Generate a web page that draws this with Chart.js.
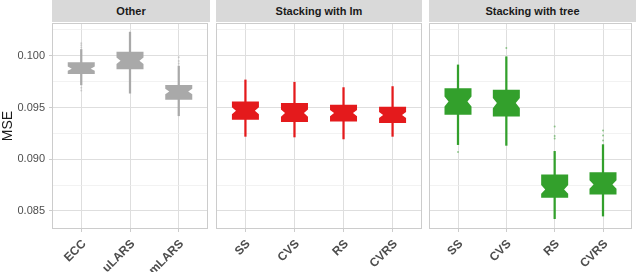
<!DOCTYPE html>
<html>
<head>
<meta charset="utf-8">
<script src="https://cdn.jsdelivr.net/npm/chart.js@4.4.1/dist/chart.umd.min.js"></script>
<style>
  body { margin: 0; background: #fff; }
  #wrap { position: relative; width: 636px; height: 272px; overflow: hidden; }
  .panel { position: absolute; top: 0; width: 212px; height: 272px; }
  .strip { position: absolute; top: 0; height: 22px; background: #d9d9d9; color: #1a1a1a;
           font: bold 11px "Liberation Sans", Arial, sans-serif; text-align: center; line-height: 22px; }
</style>
</head>
<body>
<div id="wrap">
  <div class="panel" style="left:0px"><canvas id="c1" width="212" height="272"></canvas></div>
  <div class="panel" style="left:212px"><canvas id="c2" width="212" height="272"></canvas></div>
  <div class="panel" style="left:424px"><canvas id="c3" width="212" height="272"></canvas></div>
  <div class="strip" style="left:52px;width:158px">Other</div>
  <div class="strip" style="left:216px;width:206px">Stacking with lm</div>
  <div class="strip" style="left:429px;width:207px">Stacking with tree</div>
</div>
<script>
// y axis
const yMin = 0.08326;
const yMax = 0.10316;
const yMajor = [0.085, 0.090, 0.095, 0.100];
const yMinor = [0.0875, 0.0925, 0.0975, 0.1025];

// panel "Other"
const otherLabels = ['ECC', 'uLARS', 'mLARS'];
const otherMin = [0.09718, 0.09638, 0.09420];
const otherQ1 = [0.09824, 0.09869, 0.09574];
const otherMed = [0.09875, 0.09952, 0.09654];
const otherQ3 = [0.09937, 0.10038, 0.09718];
const otherMax = [0.10060, 0.10228, 0.09900];
const otherOut = [[0.10080, 0.10100, 0.10120, 0.09690, 0.09665], [], [0.09925, 0.09950, 0.09985]];

// panel "Stacking with lm"
const lmLabels = ['SS', 'CVS', 'RS', 'CVRS'];
const lmMin = [0.09221, 0.09215, 0.09196, 0.09221];
const lmQ1 = [0.09381, 0.09359, 0.09365, 0.09350];
const lmMed = [0.09468, 0.09446, 0.09446, 0.09427];
const lmQ3 = [0.09557, 0.09542, 0.09526, 0.09507];
const lmMax = [0.09766, 0.09744, 0.09692, 0.09702];
const lmOut = [[], [], [], []];

// panel "Stacking with tree"
const treeLabels = ['SS', 'CVS', 'RS', 'CVRS'];
const treeMin = [0.09141, 0.09134, 0.08426, 0.08451];
const treeQ1 = [0.09430, 0.09413, 0.08628, 0.08660];
const treeMed = [0.09557, 0.09542, 0.08708, 0.08756];
const treeQ3 = [0.09686, 0.09670, 0.08852, 0.08874];
const treeMax = [0.09911, 0.09990, 0.09076, 0.09141];
const treeOut = [[0.09070], [0.10075], [0.09317, 0.09225, 0.09200], [0.09278, 0.09230, 0.09180]];

const nObs = 70; // runs per method, sets notch size like ggplot

Chart.defaults.font.family = '"Liberation Sans", Arial, Helvetica, sans-serif';

function isMajor(v) {
  return yMajor.some(m => Math.abs(m - v) < 1e-9);
}

// panel border + notched boxes drawn with the chart's scales
const notchPlugin = {
  id: 'notchBox',
  beforeDatasetsDraw(chart) {
    const a = chart.chartArea, ctx = chart.ctx;
    ctx.save();
    ctx.strokeStyle = '#cccccc';
    ctx.lineWidth = 1;
    ctx.strokeRect(a.left + 0.5, a.top + 0.5, a.right - a.left - 1, a.bottom - a.top - 1);
    ctx.restore();
  },
  afterDatasetsDraw(chart, args, opts) {
    const ys = chart.scales.y, ctx = chart.ctx;
    const meta = chart.getDatasetMeta(1);
    ctx.save();
    ctx.fillStyle = opts.color;
    meta.data.forEach((el, i) => {
      const w = el.width, xl = el.x - w / 2, xr = el.x + w / 2, ins = w * 0.15;
      const notch = 1.58 * (opts.q3[i] - opts.q1[i]) / Math.sqrt(nObs);
      const yq3 = ys.getPixelForValue(opts.q3[i]);
      const yq1 = ys.getPixelForValue(opts.q1[i]);
      const ym = ys.getPixelForValue(opts.med[i]);
      const yhi = ys.getPixelForValue(opts.med[i] + notch);
      const ylo = ys.getPixelForValue(opts.med[i] - notch);
      ctx.beginPath();
      ctx.moveTo(xl, yq3);
      ctx.lineTo(xr, yq3);
      ctx.lineTo(xr, yhi);
      ctx.lineTo(xr - ins, ym);
      ctx.lineTo(xr, ylo);
      ctx.lineTo(xr, yq1);
      ctx.lineTo(xl, yq1);
      ctx.lineTo(xl, ylo);
      ctx.lineTo(xl + ins, ym);
      ctx.lineTo(xl, yhi);
      ctx.closePath();
      ctx.fill();
    });
    ctx.restore();
  }
};

function makePanel(id, labels, mins, q1, med, q3, maxs, outs, color, outColor, showY, padL, padR) {
  const whisk = labels.map((_, i) => ({ x: i, y: [mins[i], maxs[i]] }));
  const boxes = labels.map((_, i) => ({ x: i, y: [q1[i], q3[i]] }));
  const points = [];
  outs.forEach((list, i) => list.forEach(v => points.push({ x: i, y: v })));

  return new Chart(document.getElementById(id), {
    type: 'bar',
    data: {
      datasets: [{
        data: whisk,
        backgroundColor: color,
        barThickness: 1.6,
        grouped: false
      }, {
        data: boxes,
        backgroundColor: 'rgba(0,0,0,0)',
        barThickness: 27,
        grouped: false
      }, {
        type: 'scatter',
        data: points,
        pointRadius: 1,
        backgroundColor: outColor,
        borderWidth: 0
      }]
    },
    options: {
      responsive: false,
      animation: false,
      layout: { padding: { left: padL, right: padR, top: 23, bottom: 0 } },
      plugins: {
        legend: { display: false },
        tooltip: { enabled: false },
        notchBox: { color: color, q1: q1, med: med, q3: q3 }
      },
      scales: {
        x: {
          type: 'linear',
          offset: false,
          min: -0.6,
          max: labels.length - 1 + 0.6,
          afterBuildTicks: s => { s.ticks = labels.map((_, i) => ({ value: i })); },
          afterFit: s => { s.height = 43; },
          ticks: {
            callback: v => labels[v],
            autoSkip: false,
            maxRotation: 45,
            minRotation: 45,
            padding: 5,
            labelOffset: 3,
            color: '#4d4d4d',
            font: { size: 12, weight: 'bold' }
          },
          grid: { offset: false, color: '#dedede', lineWidth: 1, tickLength: 3, tickColor: '#cccccc' },
          border: { display: false }
        },
        y: {
          min: yMin,
          max: yMax,
          afterBuildTicks: s => {
            s.ticks = yMajor.concat(yMinor).sort((a, b) => a - b).map(v => ({ value: v }));
          },
          afterFit: s => { s.width = showY ? 52 : 0; },
          ticks: {
            display: showY,
            callback: v => isMajor(v) ? v.toFixed(3) : '',
            padding: 4,
            color: '#4d4d4d',
            font: { size: 11 }
          },
          title: {
            display: showY,
            text: 'MSE',
            color: '#1a1a1a',
            font: { size: 14 },
            padding: 0
          },
          grid: {
            color: c => isMajor(c.tick.value) ? '#dedede' : '#ededed',
            lineWidth: c => isMajor(c.tick.value) ? 1 : 0.7,
            drawTicks: showY,
            tickLength: 3,
            tickColor: c => isMajor(c.tick.value) ? '#cccccc' : 'rgba(0,0,0,0)'
          },
          border: { display: false }
        }
      }
    },
    plugins: [notchPlugin]
  });
}

makePanel('c1', otherLabels, otherMin, otherQ1, otherMed, otherQ3, otherMax, otherOut,
  '#a9a9a9', 'rgba(169,169,169,0.5)', true, 0, 2);
makePanel('c2', lmLabels, lmMin, lmQ1, lmMed, lmQ3, lmMax, lmOut,
  '#e41a1c', 'rgba(228,26,28,0.5)', false, 4, 2);
makePanel('c3', treeLabels, treeMin, treeQ1, treeMed, treeQ3, treeMax, treeOut,
  '#33a02c', 'rgba(51,160,44,0.5)', false, 5, 0);
</script>
</body>
</html>
